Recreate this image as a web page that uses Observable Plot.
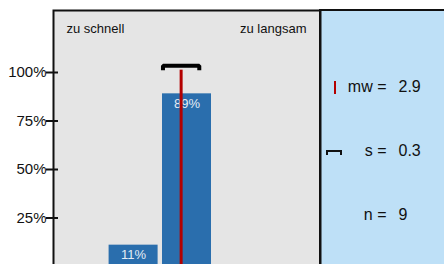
<!DOCTYPE html>
<html><head><meta charset="utf-8">
<script src="https://cdn.jsdelivr.net/npm/d3@7"></script>
<script src="https://cdn.jsdelivr.net/npm/@observablehq/plot@0.6"></script>
<style>
html,body{margin:0;padding:0;background:#fff;overflow:hidden;}
#chart svg{display:block;}
</style></head><body><div id="chart"></div>
<script>
// ---- data ----
const categories = [1, 2, 3, 4, 5];
const shares = [0, 0.11, 0.89, 0, 0];
const shareLabels = ["", "11%", "89%", "", ""];
const endLabels = ["zu schnell", "zu langsam"];
const yTicks = [0.25, 0.5, 0.75, 1];
const yTickLabels = ["25%", "50%", "75%", "100%"];
const statNames = ["mw =", "s =", "n ="];
const statValues = ["2.9", "0.3", "9"];
const mean = 2.89;
const sd = 0.34;
const errorLevel = 1.035;
const capLevel = 1.012;

const bars = categories.map((c, i) => ({cat: c, share: shares[i], label: shareLabels[i]})).filter(d => d.share > 0);
const bracket = [
  {x: mean - sd, y: capLevel}, {x: mean - sd, y: errorLevel},
  {x: mean + sd, y: errorLevel}, {x: mean + sd, y: capLevel}
];

const FONT = "Liberation Sans, Arial, Helvetica, sans-serif";
const GREY = "#e5e5e5", BLUE = "#2a6ead", PANEL = "#bee0f7", RED = "#b30000", INK = "#111";

const panel = (index, scales, values, dims) => {
  const {width, height, marginTop, marginRight} = dims;
  const x0 = width - marginRight;
  const g = d3.create("svg:g");
  g.append("rect").attr("x", x0).attr("y", marginTop)
    .attr("width", marginRight + 10).attr("height", height)
    .attr("fill", PANEL).attr("stroke", INK).attr("stroke-width", 2);
  // legend glyph for mean
  g.append("line").attr("x1", x0 + 15).attr("x2", x0 + 15)
    .attr("y1", marginTop + 71).attr("y2", marginTop + 84)
    .attr("stroke", RED).attr("stroke-width", 2);
  // legend glyph for s
  g.append("path").attr("d", `M${x0 + 7},${marginTop + 145}V${marginTop + 141}H${x0 + 21}V${marginTop + 145}`)
    .attr("fill", "none").attr("stroke", INK).attr("stroke-width", 2);
  return g.node();
};

const chart = Plot.plot({
  width: 444,
  height: 270,
  marginLeft: 53,
  marginRight: 124,
  marginTop: 10,
  marginBottom: 4,
  style: {fontFamily: FONT, background: "#fff", overflow: "visible"},
  x: {domain: [0.5, 5.5], axis: null},
  y: {domain: [0, 256 / 194]},
  marks: [
    Plot.frame({fill: GREY}),
    panel,
    Plot.rectY(bars, {x1: d => d.cat - 0.5, x2: d => d.cat + 0.5, y: "share", fill: BLUE, insetLeft: 2.2, insetRight: 2.2}),
    Plot.text(bars, {x: "cat", y: "share", text: "label", dy: 10, fill: "#e4ecf5", fontSize: 13}),
    Plot.ruleX([mean], {x: d => d, y1: 0, y2: capLevel, stroke: RED, strokeWidth: 3}),
    Plot.line(bracket, {x: "x", y: "y", stroke: "#000", strokeWidth: 4, strokeLinejoin: "miter", strokeLinecap: "butt"}),
    Plot.text([endLabels[0]], {frameAnchor: "top-left", dx: 13, dy: 18, lineAnchor: "middle", textAnchor: "start", fontSize: 13, fill: "#111"}),
    Plot.text([endLabels[1]], {frameAnchor: "top-right", dx: -14, dy: 18, lineAnchor: "middle", textAnchor: "end", fontSize: 13, fill: "#111"}),
    ...statNames.map((s, i) => Plot.text([s], {frameAnchor: "top-right", dx: 66, dy: 76.5 + 64 * i, lineAnchor: "middle", textAnchor: "end", fontSize: 16, fill: "#111"})),
    ...statValues.map((s, i) => Plot.text([s], {frameAnchor: "top-right", dx: 78, dy: 76.5 + 64 * i, lineAnchor: "middle", textAnchor: "start", fontSize: 16, fill: "#111"})),
    Plot.axisY({ticks: yTicks, tickSize: 12, dx: 5, tickFormat: () => "", stroke: INK, strokeWidth: 2}),
    Plot.axisY({ticks: yTicks, tickSize: 0, tickPadding: 7, tickFormat: d => yTickLabels[yTicks.indexOf(d)], fontSize: 15, fill: "#111"}),
    Plot.frame({stroke: INK, strokeWidth: 2})
  ]
});
document.getElementById("chart").appendChild(chart);
</script>
</body></html>
